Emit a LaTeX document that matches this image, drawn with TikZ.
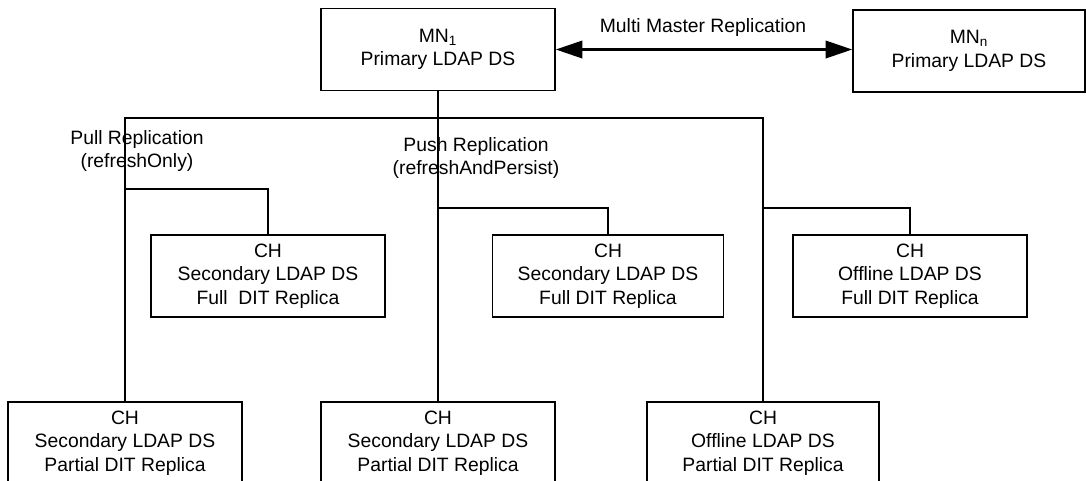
\documentclass[tikz,border=0pt]{standalone}
\usepackage{fontspec}
\setmainfont{Liberation Sans}
\usetikzlibrary{arrows.meta}
\tikzset{
  dsbox/.style={draw,line width=1.1pt,minimum width=175.5pt,minimum height=61.5pt,
    align=center,inner sep=0pt,font=\fontsize{14.5}{17.6}\selectfont},
  link/.style={line width=2pt},
  repl/.style={align=center,inner sep=0pt,font=\fontsize{14.5}{17.6}\selectfont},
  bigtip/.tip={Triangle[length=20pt,width=13pt]}
}
\begin{document}
\begin{tikzpicture}[line cap=butt,line join=miter,x=0.75pt,y=-0.75pt]
\useasboundingbox (0,0) rectangle (1086,480);
% master nodes
\node[dsbox] (mn1) at (438,49.5) {MN\textsubscript{1}\\Primary LDAP DS};
\node[dsbox,minimum width=174pt] (mnn) at (969,51) {MN\textsubscript{n}\\Primary LDAP DS};
\draw[link,bigtip-bigtip] (mn1.east) -- (mn1.east -| mnn.west);
\node[repl] (mmr) at (703,27) {Multi Master Replication};
% consumer nodes, full replicas
\node[dsbox] (secfull) at (268,276) {CH\\Secondary LDAP DS\\Full\ \ DIT Replica};
\node[dsbox,minimum width=173pt] (secfullb) at (608,276) {CH\\Secondary LDAP DS\\Full DIT Replica};
\node[dsbox] (offfull) at (910,276) {CH\\Offline LDAP DS\\Full DIT Replica};
% consumer nodes, partial replicas
\node[dsbox] (secpart) at (125,443) {CH\\Secondary LDAP DS\\Partial DIT Replica};
\node[dsbox] (secpartb) at (438,443) {CH\\Secondary LDAP DS\\Partial DIT Replica};
\node[dsbox,minimum width=174pt] (offpart) at (763,443) {CH\\Offline LDAP DS\\Partial DIT Replica};
% replication tree
\coordinate (bus) at (438,118);
\coordinate (pull) at (125,189);
\coordinate (push) at (438,208);
\coordinate (offj) at (763,208);
\draw[link] (mn1.south) -- (secpartb.north);
\draw[link] (secpart.north) |- (bus) -| (offpart.north);
\draw[link] (pull) -| (secfull.north);
\draw[link] (push) -| (secfullb.north);
\draw[link] (offj) -| (offfull.north);
\node[repl] (pulllbl) at (137,151) {Pull Replication\\(refreshOnly)};
\node[repl] (pushlbl) at (476,158) {Push Replication\\(refreshAndPersist)};
\end{tikzpicture}
\end{document}
